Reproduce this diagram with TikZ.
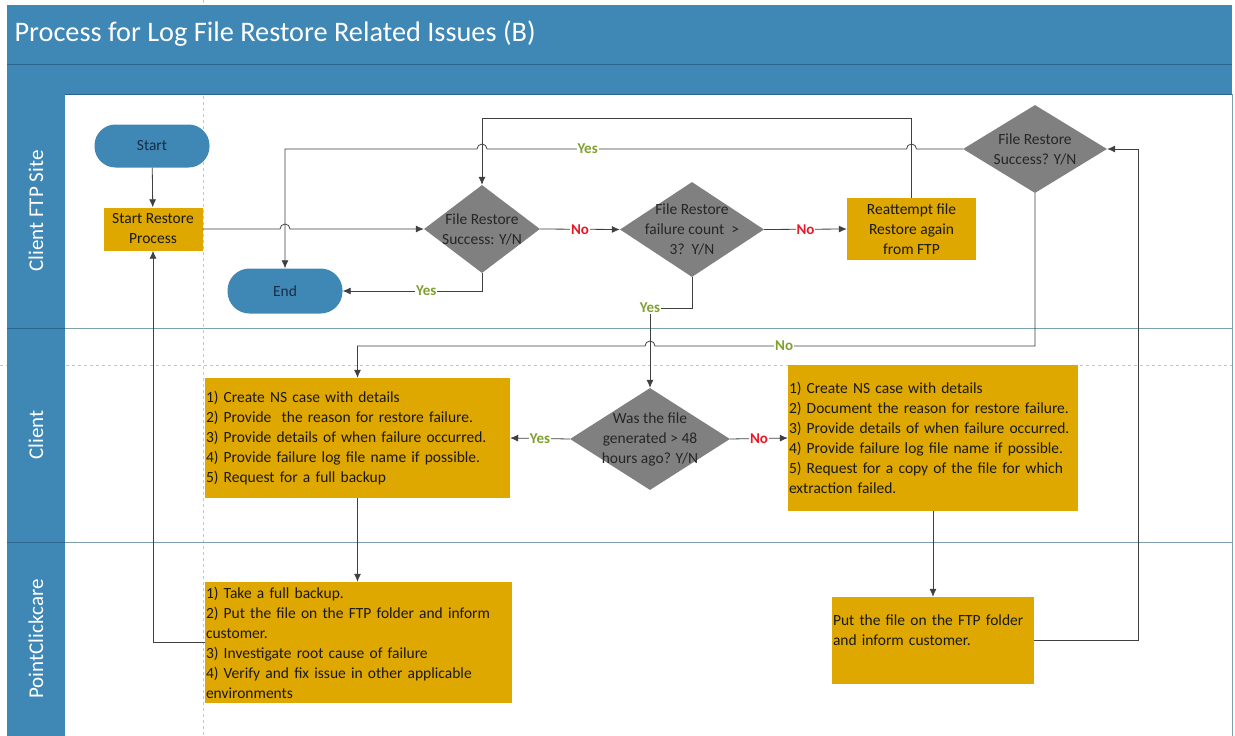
\documentclass[tikz,border=0pt]{standalone}
\usepackage{fontspec}
\setmainfont{Carlito}
\usepackage{tikz}
\usetikzlibrary{arrows.meta}
\usetikzlibrary{positioning}
\usetikzlibrary{shapes.geometric}

\definecolor{laneblue}{RGB}{63,135,181}
\definecolor{laneedge}{RGB}{40,100,140}
\definecolor{lanesep}{RGB}{125,160,170}
\definecolor{taskgold}{RGB}{223,168,0}
\definecolor{decgray}{RGB}{128,128,128}
\definecolor{yesgreen}{RGB}{128,160,48}
\definecolor{nored}{RGB}{232,24,40}
\definecolor{termtext}{RGB}{25,45,70}
\hyphenpenalty=10000

\begin{document}
\begin{tikzpicture}[x=1pt,y=1pt,>={Latex[length=8pt,width=7pt]},
  every node/.style={font=\fontsize{15.5}{20}\selectfont},
  term/.style={rectangle,rounded corners=21pt,fill=laneblue,text=termtext,minimum width=115pt,minimum height=43pt},
  task/.style={rectangle,fill=taskgold,text=black!90,inner sep=1pt,align=left},
  dec/.style={diamond,fill=decgray,inner sep=0pt},
  dectext/.style={text=black!85,align=center},
  flow/.style={->,draw=black!75,line width=0.8pt},
  yeslbl/.style={fill=white,text=yesgreen,font=\fontsize{15}{18}\selectfont\bfseries,inner sep=1pt},
  nolbl/.style={yeslbl,text=nored},
  lane/.style={text=white,font=\fontsize{21}{24}\selectfont,rotate=90}]
  \useasboundingbox (0,0) rectangle (1235,-736);
  \fill[white] (0,0) rectangle (1235,-736);
  \draw[gray!45,dashed] (203,0) -- (203,-736);
  \draw[gray!45,dashed] (0,-365) -- (1235,-365);
  \fill[laneblue] (7,-5) rectangle (1232,-94);
  \draw[laneedge] (7,-64) -- (1232,-64);
  \draw[laneedge] (7,-94) -- (1232,-94);
  \fill[laneblue] (7,-94) rectangle (65,-736);
  \draw[lanesep] (65,-328) -- (1232,-328);
  \draw[lanesep] (65,-542) -- (1232,-542);
  \draw[laneedge] (7,-328) -- (65,-328);
  \draw[laneedge] (7,-542) -- (65,-542);
  \draw[lanesep] (1232,-94) -- (1232,-736);
  \node[anchor=west,text=white,font=\fontsize{28.3}{32}\selectfont] (title) at (11,-34) {Process for Log File Restore Related Issues (B)};
  \node[lane] (ftp) at (36,-211) {Client FTP Site};
  \node[lane] (client) at (36,-435) {Client};
  \node[lane] (pcc) at (36,-639) {PointClickcare};

  \node[term] (start) at (152,-146) {Start};
  \node[task,align=center,minimum width=99pt,minimum height=43pt] (srp) at (153,-229) {Start Restore\\Process};
  \node[term,rounded corners=22pt,minimum height=45pt] (end) at (285,-291) {End};
  \node[dec,minimum width=116pt,minimum height=88pt,label={[dectext]center:{File Restore\\Success: Y/N}}] (d1) at (482,-229) {};
  \node[dec,minimum width=144pt,minimum height=95pt,label={[dectext]center:{File Restore\\failure count\ \ >\\3?\ \ Y/N}}] (d2) at (692,-229.5) {};
  \node[task,align=center,minimum width=129pt,minimum height=62pt] (rea) at (911.5,-229) {Reattempt file\\Restore again\\from FTP};
  \node[dec,minimum width=144pt,minimum height=88pt,label={[dectext]center:{File Restore\\Success? Y/N}}] (d3) at (1035,-149) {};
  \node[dec,minimum width=160pt,minimum height=102pt,label={[dectext]center:{Was the file\\generated > 48\\hours ago? Y/N}}] (d4) at (650,-439) {};
  \node[task,text width=303pt,minimum height=120pt] (caseyes) at (357.5,-438) {1) Create NS case with details\\2) Provide\ \ the reason for restore failure.\\3) Provide details of when failure occurred.\\4) Provide failure log file name if possible.\\5) Request for a full backup};
  \node[task,text width=288pt,minimum height=146pt] (caseno) at (933,-438) {1) Create NS case with details\\2) Document the reason for restore failure.\\3) Provide details of when failure occurred.\\4) Provide failure log file name if possible.\\5) Request for a copy of the file for which\\extraction failed.};
  \node[task,text width=305pt,minimum height=121pt] (backup) at (358.5,-642.5) {1) Take a full backup.\\2) Put the file on the FTP folder and inform\\customer.\\3) Investigate root cause of failure\\4) Verify and fix issue in other applicable\\environments};
  \node[task,text width=200pt,minimum height=87pt] (putfile) at (933,-640.5) {Put the file on the FTP folder\\and inform customer.\\\mbox{}};

  \draw[flow] (start) -- (srp);
  \draw[flow] (srp.east) -- (280,-229) arc (180:0:5pt) -- (d1.west);
  \draw[flow] (d1.east) -- node[nolbl]{No} (d2.west);
  \draw[flow] (d2.east) -- node[nolbl]{No} (rea.west);
  \draw[flow] (rea.north) -- ++(0,79) -| (d1.north);
  \draw[flow] (d3.west) -- (916.5,-149) arc (0:180:5pt) -- node[yeslbl,pos=0.76]{Yes} (487,-149) arc (0:180:5pt) -| (end.north);
  \draw[flow] (d1.south) |- node[yeslbl,pos=0.7]{Yes} (end.east);
  \draw[flow] (d2.south) |- (650,-308) node[yeslbl]{Yes} -- (d4.north);
  \draw[flow] (d3.south) |- node[yeslbl,pos=0.83]{No} (655,-346) arc (0:180:5pt) -| (caseyes.north);
  \draw[flow] (d4.west) -- node[yeslbl]{Yes} (caseyes.east);
  \draw[flow] (d4.east) -- node[nolbl]{No} (caseno.west);
  \draw[flow] (caseyes.south) -- (caseyes.south |- backup.north);
  \draw[flow] (caseno.south) -- (putfile.north);
  \draw[flow] (putfile.east) -- ++(104,0) |- (d3.east);
  \draw[flow] (backup.west) -| (srp.south);
\end{tikzpicture}
\end{document}
